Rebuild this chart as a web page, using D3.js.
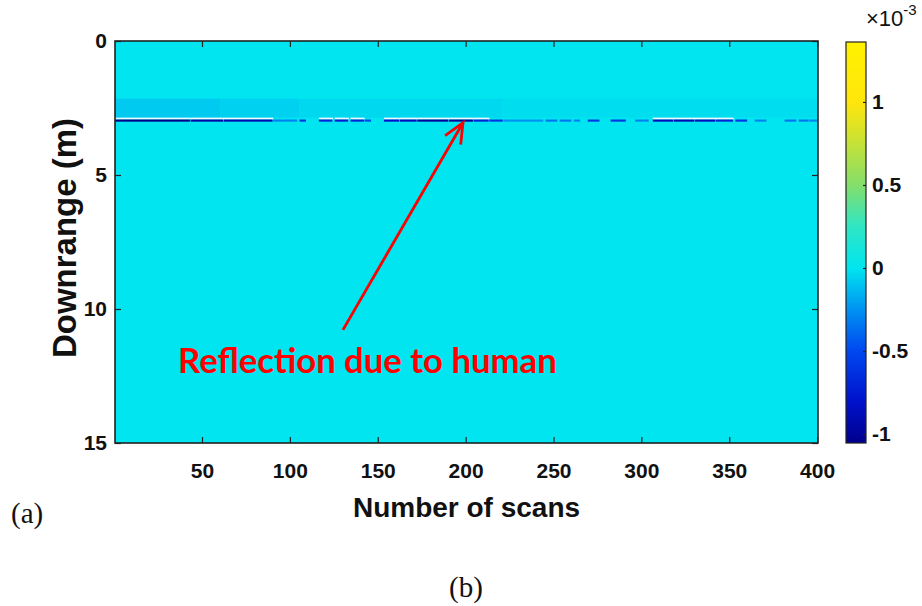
<!DOCTYPE html>
<meta charset="utf-8">
<style>
body { margin: 0; background: #fff; }
.tick text { font-family: "Liberation Sans", Arial, sans-serif; font-weight: bold; font-size: 21px; fill: #111; }
.tick line { stroke: #222; stroke-width: 1.2; }
.axis-title { font-family: "Liberation Sans", Arial, sans-serif; font-weight: bold; fill: #111; }
.panel { font-family: "Liberation Serif", "Times New Roman", serif; font-size: 29px; fill: #111; }
</style>
<body>
<svg id="chart" width="922" height="606"></svg>
</body>
<script src="https://d3js.org/d3.v7.min.js"></script>
<script>

var width = 922,
    height = 606;

// plot box
var plotLeft = 115, plotRight = 818, plotTop = 41, plotBottom = 443;

// ---- data (values in units of 1e-3) ----
var scanTicks = [50, 100, 150, 200, 250, 300, 350, 400];
var rangeTicks = [0, 5, 10, 15];
var cbTicks = [-1, -0.5, 0, 0.5, 1];
var cbLimits = [-1.054, 1.361];

// reflection line at ~2.95 m: [first scan, last scan, value]
var reflection = [
  [1, 43, -1.05], [44, 62, -0.95], [63, 90, -0.9], [91, 104, -0.3],
  [106, 109, -0.6], [117, 124, -0.7], [126, 133, -0.75], [135, 142, -0.7],
  [143, 146, -0.5], [154, 162, -0.8], [163, 172, -0.85], [173, 190, -1.0],
  [191, 204, -1.0], [205, 213, -0.7], [214, 221, -0.6], [222, 244, -0.25],
  [246, 252, -0.35], [254, 260, -0.35], [262, 265, -0.3], [270, 276, -0.6],
  [283, 291, -0.6], [297, 304, -0.3], [307, 318, -0.85], [319, 330, -0.9],
  [331, 342, -0.85], [343, 352, -0.7], [354, 360, -0.6], [365, 371, -0.3],
  [382, 388, -0.35], [390, 395, -0.35], [396, 400, -0.3]
];
// weak clutter just above the line
var haze = [
  [1, 60, -0.08], [61, 105, -0.06], [106, 220, -0.04], [221, 400, -0.025]
];
var lineRange = [2.93, 3.01],
    glintRange = [2.86, 2.93],
    hazeRange = [2.15, 2.86];

// colormap stops
var cmapValues = [-1.054, -0.8, -0.5, -0.25, 0, 0.25, 0.5, 0.8, 1.0, 1.361];
var cmapColors = ["#00008c", "#0012cc", "#0048f0", "#0092f2", "#00e5ef",
                  "#2fe6c4", "#84de6a", "#d2e22e", "#ffe60c", "#fff200"];

var annotation = { text: "Reflection due to human", tail: [130.2, 10.78], tip: [198.5, 3.05] };

// ---- scales ----
var x = d3.scaleLinear().domain([0.5, 400.5]).range([plotLeft, plotRight]);
var y = d3.scaleLinear().domain([0, 15]).range([plotTop, plotBottom]);
var color = d3.scaleLinear().domain(cmapValues).range(cmapColors).clamp(true);

var svg = d3.select("#chart");
svg.append("rect").attr("width", width).attr("height", height).attr("fill", "#fff");

var plot = svg.append("g");

// background field (value 0)
plot.append("rect")
    .attr("x", plotLeft).attr("y", plotTop)
    .attr("width", plotRight - plotLeft).attr("height", plotBottom - plotTop)
    .attr("fill", color(0));

plot.selectAll(".haze")
  .data(haze)
  .enter().append("rect")
    .attr("class", "haze")
    .attr("x", function(d) { return x(d[0] - 0.5); })
    .attr("width", function(d) { return x(d[1] + 0.5) - x(d[0] - 0.5); })
    .attr("y", y(hazeRange[0]))
    .attr("height", y(hazeRange[1]) - y(hazeRange[0]))
    .attr("fill", function(d) { return color(d[2]); });

// pale glint row above strong returns
plot.selectAll(".glint")
  .data(reflection.filter(function(d) { return d[2] <= -0.7; }))
  .enter().append("rect")
    .attr("class", "glint")
    .attr("x", function(d) { return x(d[0] - 0.5); })
    .attr("width", function(d) { return x(d[1] + 0.5) - x(d[0] - 0.5); })
    .attr("y", y(glintRange[0]))
    .attr("height", y(glintRange[1]) - y(glintRange[0]))
    .attr("fill", "#eefcff");

plot.selectAll(".refl")
  .data(reflection)
  .enter().append("rect")
    .attr("class", "refl")
    .attr("x", function(d) { return x(d[0] - 0.5); })
    .attr("width", function(d) { return x(d[1] + 0.5) - x(d[0] - 0.5) - 0.6; })
    .attr("y", y(lineRange[0]))
    .attr("height", y(lineRange[1]) - y(lineRange[0]))
    .attr("fill", function(d) { return color(d[2]); });

// ---- axes ----
svg.append("g").attr("class", "axis")
    .attr("transform", "translate(0," + plotBottom + ")")
    .call(d3.axisBottom(x).tickValues(scanTicks).tickSizeInner(-6).tickSizeOuter(0).tickPadding(20));
svg.append("g").attr("class", "axis")
    .attr("transform", "translate(0," + plotTop + ")")
    .call(d3.axisTop(x).tickValues(scanTicks).tickSizeInner(-6).tickSizeOuter(0).tickFormat(""));
svg.append("g").attr("class", "axis")
    .attr("transform", "translate(" + plotLeft + ",0)")
    .call(d3.axisLeft(y).tickValues(rangeTicks).tickSizeInner(-6).tickSizeOuter(0).tickPadding(8));
svg.append("g").attr("class", "axis")
    .attr("transform", "translate(" + plotRight + ",0)")
    .call(d3.axisRight(y).tickValues(rangeTicks).tickSizeInner(-6).tickSizeOuter(0).tickFormat(""));
svg.selectAll(".axis .domain").remove();

svg.append("rect")
    .attr("x", plotLeft).attr("y", plotTop)
    .attr("width", plotRight - plotLeft).attr("height", plotBottom - plotTop)
    .attr("fill", "none").attr("stroke", "#222").attr("stroke-width", 1.6);

svg.append("text").attr("class", "axis-title")
    .attr("x", (plotLeft + plotRight) / 2).attr("y", 517)
    .attr("text-anchor", "middle").style("font-size", "28px")
    .text("Number of scans");

svg.append("text").attr("class", "axis-title")
    .attr("transform", "translate(76,238) rotate(-90)")
    .attr("text-anchor", "middle").style("font-size", "33px")
    .text("Downrange (m)");

// ---- colorbar ----
var cbX = 846, cbW = 20;
var cb = d3.scaleLinear().domain(cbLimits).range([plotBottom, 42]);

var grad = svg.append("defs").append("linearGradient")
    .attr("id", "cmap").attr("x1", 0).attr("y1", 1).attr("x2", 0).attr("y2", 0);
grad.selectAll("stop")
  .data(cmapValues)
  .enter().append("stop")
    .attr("offset", function(d) { return (d - cbLimits[0]) / (cbLimits[1] - cbLimits[0]); })
    .attr("stop-color", function(d) { return color(d); });

svg.append("rect")
    .attr("x", cbX).attr("y", cb(cbLimits[1]))
    .attr("width", cbW).attr("height", cb(cbLimits[0]) - cb(cbLimits[1]))
    .attr("fill", "url(#cmap)").attr("stroke", "#222").attr("stroke-width", 1.2);

svg.append("g").attr("class", "axis")
    .attr("transform", "translate(" + (cbX + cbW) + ",0)")
    .call(d3.axisRight(cb).tickValues(cbTicks).tickSizeInner(-3).tickSizeOuter(0).tickPadding(6)
      .tickFormat(function(d) { return String(d); }))
    .select(".domain").remove();

var expo = svg.append("text")
    .attr("x", 866).attr("y", 26)
    .style("font-family", "'Liberation Sans', Arial, sans-serif")
    .style("font-size", "22px").attr("fill", "#111");
expo.append("tspan").text("\u00d710");
expo.append("tspan").attr("dy", -11).style("font-size", "15px").text("-3");

// ---- annotation ----
var ax0 = x(annotation.tail[0]), ay0 = y(annotation.tail[1]),
    ax1 = x(annotation.tip[0]), ay1 = y(annotation.tip[1]);
var ang = Math.atan2(ay1 - ay0, ax1 - ax0), headLen = 22, spread = 0.42;

svg.append("line")
    .attr("x1", ax0).attr("y1", ay0).attr("x2", ax1).attr("y2", ay1)
    .attr("stroke", "#ff0000").attr("stroke-width", 2.8);
svg.append("path")
    .attr("d", "M" + (ax1 - headLen * Math.cos(ang - spread)) + "," + (ay1 - headLen * Math.sin(ang - spread)) +
               "L" + ax1 + "," + ay1 +
               "L" + (ax1 - headLen * Math.cos(ang + spread)) + "," + (ay1 - headLen * Math.sin(ang + spread)))
    .attr("fill", "none").attr("stroke", "#ff0000").attr("stroke-width", 2.8)
    .attr("stroke-linejoin", "miter");

var note = svg.append("text")
    .attr("x", 178).attr("y", 373)
    .style("font-family", "Lato, 'Open Sans', sans-serif")
    .style("font-weight", "bold").style("font-size", "33px")
    .attr("fill", "#ff0000")
    .text(annotation.text);
// fit text width to ~379px
var w = note.node().getComputedTextLength();
note.style("font-size", (33 * 379 / w).toFixed(1) + "px");

// panel labels
svg.append("text").attr("class", "panel").attr("x", 11).attr("y", 523).text("(a)");
svg.append("text").attr("class", "panel").attr("x", 466).attr("y", 597)
    .attr("text-anchor", "middle").text("(b)");

</script>
